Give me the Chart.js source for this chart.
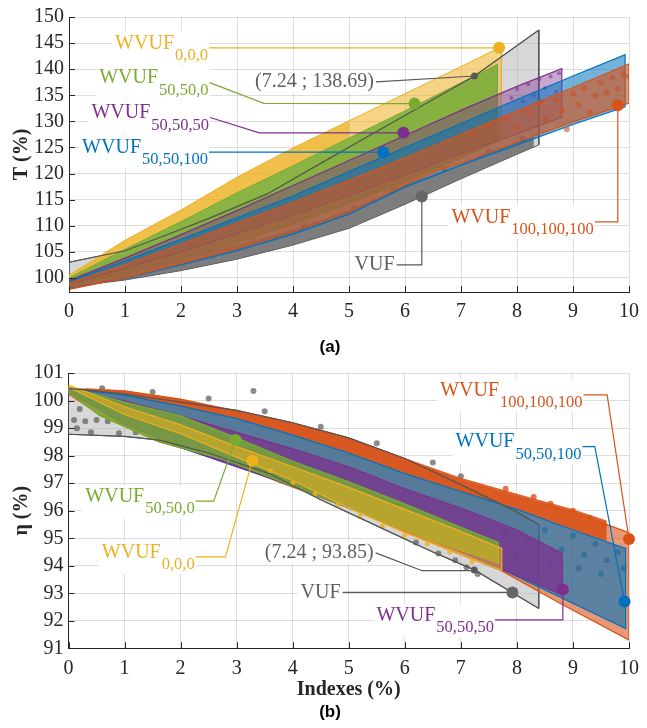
<!DOCTYPE html>
<html>
<head>
<meta charset="utf-8">
<script src="https://cdn.jsdelivr.net/npm/chart.js@4.4.1/dist/chart.umd.min.js"></script>
<style>
  html, body { margin: 0; padding: 0; background: #fff; }
  #wrap { position: relative; width: 647px; height: 728px; }
  .box { position: absolute; left: 0; width: 647px; }
  .cap { position: absolute; left: 0; width: 660px; text-align: center;
         font: bold 17px "Liberation Sans", Arial, sans-serif; color: #000; }
</style>
</head>
<body>
<div id="wrap">
  <div class="box" style="top:0;height:340px"><canvas id="chartA"></canvas></div>
  <div class="cap" style="top:337px">(a)</div>
  <div class="box" style="top:355px;height:345px"><canvas id="chartB"></canvas></div>
  <div class="cap" style="top:702px">(b)</div>
</div>
<script>
// ---------- ticks ----------
const xTicks = [0, 1, 2, 3, 4, 5, 6, 7, 8, 9, 10];
const yTicksA = [100, 105, 110, 115, 120, 125, 130, 135, 140, 145, 150];
const yTicksB = [91, 92, 93, 94, 95, 96, 97, 98, 99, 100, 101];

// ---------- (a) T (%) : envelope edges [index, value] ----------
const vufUpA = [[0,103],[1,105.2],[1.54,107.4],[2.5,111.4],[3.54,116.1],[4.5,122],[5.5,128.1],[6.5,134.2],[7.24,138.69],[8.39,147.5]];
const vufLoA = [[0,98.3],[1,99.6],[2,101.4],[3,103.6],[4,106.3],[5,109.5],[6,114.1],[7,119],[8,123.7],[8.39,125.5]];
const vufCloudTopA = [[0,100],[1,101.8],[2,104],[3,106.4],[4,109.2],[5,113],[6,117.8],[7,121.8],[7.42,123.8],[8,126],[8.3,127]];
const vufCloudLoA = [[0,98.3],[1,99.6],[2,101.4],[3,103.6],[4,106.3],[5,109.5],[6,114.1],[7,119],[7.42,121],[8,123.7],[8.3,125.1]];
const vufDotsA = [[0.3,100.2],[0.8,101.4],[1.5,102.9],[2.4,105.1],[3.3,107.3],[4.2,110],[5.1,113.6],[5.8,117],[6.7,120.9],[7.5,124.2],[8.1,126.6]];

const w000UpA = [[0,100.5],[1,107.2],[2,113],[3,119.3],[4,124.9],[5,130.1],[6,135.3],[7,140.5],[7.68,144.1],[7.72,144.1]];
const w000LoA = [[0,98.4],[1,100.4],[2,103],[3,106],[4,109.5],[5,113.5],[6,118],[7,122.8],[7.72,126.5]];
const w500UpA = [[0,100],[1,105.5],[2,110.8],[3,116.3],[4,121.5],[5,126.8],[6,132],[7,137.4],[7.65,140.9]];
const w500LoA = [[0,98.6],[1,100.8],[2,103.6],[3,106.8],[4,110.3],[5,114.2],[6,118.4],[7,123],[7.65,126.3]];
const w555UpA = [[0,99.5],[1,103.8],[2,108.3],[3,112.9],[4,117.7],[5,122.5],[6,127.3],[7,132.1],[8,136.7],[8.8,140.1]];
const w555LoA = [[0,98.8],[1,101.8],[2,105],[3,108.5],[4,112],[5,115.8],[6,119.8],[7,123.8],[8,127.6],[8.8,130.8]];
const w551UpA = [[0,99.3],[1,103.3],[2,107.4],[3,111.5],[4,115.7],[5,120.4],[6,125],[7,129.6],[8,134.2],[9,138.7],[9.93,142.8]];
const w551LoA = [[0,98],[1,99.9],[2,102.5],[3,105.2],[4,108.4],[5,112.2],[6,117.4],[7,121.6],[8,125.5],[9,129.4],[9.93,132.8]];
const w111UpA = [[0,99],[1,102.5],[2,106.5],[3,110.5],[4,114.5],[5,118.7],[6,123],[7,127.5],[8,132],[9,136.5],[10,141]];
const w111LoA = [[0,97.8],[1,100],[2,102.8],[3,105.6],[4,108.8],[5,112.6],[6,117.8],[6.54,120.3],[7,122],[8,126],[9,129.9],[10,133.5]];
const w555DotsA = [[7.9,134.5],[8.0,136.2],[8.1,133.8],[8.2,137.1],[8.3,135.0],[8.4,138.0],[8.5,136.4],[8.6,138.6],[8.7,135.7],[8.75,139.2],[8.45,133.9]];
const w111DotsA = [[7.2,127.5],[7.5,129.2],[7.8,130.6],[8.0,128.9],[8.2,131.8],[8.4,133.5],[8.5,130.4],[8.7,134.1],[8.8,132.1],[8.89,128.5],[9.0,135.3],[9.1,133.2],[9.2,136.3],[9.3,131.8],[9.4,134.9],[9.5,137.4],[9.6,135.6],[9.7,138.4],[9.8,136.2],[9.9,139.0],[10.0,138.6]];

// markers and leaders (a)
const markersA = [[7.68,144.1],[6.17,133.4],[5.97,127.8],[5.61,124.1],[6.30,115.6],[9.80,133.1]];
const markerColorsA = ['#EDB120','#77AC30','#7E2F8E','#0072BD','#666666','#D95319'];
const pointA = [7.24, 138.69];
const leadW000A = [[2.50,144.1],[7.68,144.1]];
const leadW500A = [[2.51,137.42],[3.48,133.45],[6.17,133.4]];
const leadW555A = [[2.52,130.74],[3.40,127.8],[5.97,127.8]];
const leadW551A = [[2.50,124.1],[5.61,124.1]];
const leadPointA = [[5.48,137.55],[7.24,138.69]];
const leadVufA = [[5.85,102.49],[6.30,102.49],[6.30,115.6]];
const leadW111A = [[9.39,110.72],[9.80,110.72],[9.80,133.1]];

// ---------- (b) eta (%) ----------
const vufUpB = [[0,100.45],[1,100.25],[2,99.95],[3,99.65],[4,99.2],[5,98.65],[6,97.9],[7,96.95],[8,95.95],[8.39,95.5]];
const vufLoB = [[0,98.78],[1,98.7],[1.62,98.57],[2.5,98.1],[3.57,97.36],[4.5,96.4],[5.5,95.45],[6.5,94.5],[7.24,93.85],[8.39,92.45]];
const vufDotsB = [[0.1,99.3],[0.3,99.25],[0.5,99.3],[0.7,99.25],[0.9,99.3],[0.2,99.7],[0.15,99.0],[0.4,98.85],[0.9,98.82],[1.2,98.85],[1.5,98.8],
  [0.6,100.45],[1.5,100.32],[2.5,100.08],[3.3,100.35],[3.5,99.62],[4.5,99.05],[5.5,98.45],[6.5,97.75],[7.0,97.25],
  [6.2,94.85],[6.6,94.45],[6.9,94.2],[7.1,93.95],[7.3,93.7]];
const vufInnerDotsB = [[7.8,95.2],[8.2,94.9],[8.5,95.3],[8.8,94.6],[9.0,95.1],[9.2,94.4],[9.4,94.8],[9.6,94.2],[9.8,94.5],[9.1,93.9],[8.6,94.1],[9.5,93.7],[9.9,93.9],[8.0,94.4]];

const w111UpB = [[0,100.45],[1,100.35],[2,100.05],[3,99.6],[4,99.15],[5,98.6],[6,97.85],[7,97.1],[8,96.5],[9,95.95],[10,95.2]];
const w111LoB = [[0,100.25],[0.56,99.48],[1.62,98.5],[2.8,97.84],[3.74,97.06],[5,96.1],[6,95.25],[7,94.4],[7.7,93.85],[8.8,92.6],[10,91.3]];
const w111CloudTopB = [[0.3,100.45],[1,100.38],[2,100.08],[3,99.65],[4,99.2],[5,98.65],[6,97.92],[7,97.2],[8,96.62],[9,96.05],[9.6,95.65]];
const w111CloudLoB = [[0.3,100.4],[1,100.2],[2,99.8],[3,99.35],[4,98.75],[5,98.1],[6,97.35],[7,96.7],[8,96.05],[9,95.3],[9.6,94.9]];
const w111DotsB = [[7.8,96.8],[8.3,96.5],[8.6,96.25],[9.0,96.0],[9.3,95.75],[9.55,95.5]];
const w551UpB = [[0,100.45],[1,100.2],[2,99.8],[3,99.35],[4,98.75],[5,98.1],[6,97.35],[7,96.7],[8,96.05],[9,95.3],[9.94,94.63]];
const w551LoB = [[0,100.3],[1,99.2],[2,98.3],[3,97.6],[4,96.9],[5,96.1],[6,95.3],[7,94.5],[7.7,93.9],[9.94,91.72]];
const w555UpB = [[0,100.4],[1,100.0],[2,99.45],[3,98.85],[4,98.25],[5,97.6],[6,96.8],[7,96.1],[8,95.3],[8.81,94.45]];
const w555LoB = [[0,100.3],[1,99.15],[2,98.3],[3,97.6],[4,96.9],[5,96.1],[6,95.3],[7,94.5],[7.7,93.9],[8.81,92.94]];
const w500UpB = [[0,100.5],[1,99.95],[2,99.45],[3,98.65],[4,97.8],[5,97.05],[6,96.25],[7,95.4],[7.67,94.85]];
const w500LoB = [[0,100.3],[0.56,99.45],[1.62,98.5],[2.8,97.85],[3.74,97.1],[4.5,96.5],[5.5,95.7],[6.5,94.9],[7.67,94.1]];
const w000UpB = [[0,100.57],[1,99.78],[2,99.12],[3,98.33],[4,97.6],[5,96.85],[6,96.05],[7,95.25],[7.73,94.63]];
const w000LoB = [[0,100.5],[1,99.5],[2,98.8],[3,97.95],[4,97.1],[5,96.1],[6,95.2],[7,94.4],[7.73,93.84]];
const w000DotsB = [[3.6,97.45],[4.0,97.0],[4.4,96.6],[4.8,96.2],[5.2,95.8],[5.6,95.45],[6.0,95.1],[6.4,94.8],[6.8,94.5],[7.2,94.15]];

const markersB = [[10,94.97],[9.92,92.7],[8.82,93.14],[7.92,93.03],[2.98,98.57],[3.28,97.82]];
const markerColorsB = ['#D95319','#0072BD','#7E2F8E','#666666','#77AC30','#EDB120'];
const pointB = [7.24, 93.85];
const leadW111B = [[9.19,100.21],[9.61,100.21],[10,94.97]];
const leadW551B = [[9.17,98.33],[9.39,98.33],[9.92,92.7]];
const leadW500B = [[2.27,96.35],[2.59,96.35],[2.98,98.57]];
const leadW000B = [[2.27,94.32],[2.80,94.32],[3.28,97.82]];
const leadPointB = [[5.48,94.47],[6.31,93.82],[7.22,93.82],[7.24,93.85]];
const leadVufB = [[4.89,93.03],[7.92,93.03]];
const leadW555B = [[7.61,92.03],[8.82,92.03],[8.82,93.14]];

// ---------- helpers ----------
const SERIF = '"Liberation Serif", "Times New Roman", serif';
const MAIN_FONT = '20px ' + SERIF;
const SUB_FONT = '16.5px ' + SERIF;
const GREY_TXT = '#5f5f5f';
const pts = (arr) => arr.map(([x, y]) => ({ x, y }));
const poly = (up, lo) => pts([...up, ...lo.slice().reverse(), up[0]]);

function band(up, lo, fill, stroke, width) {
  return { data: poly(up, lo), fill: 'shape', backgroundColor: fill,
           borderColor: stroke || 'transparent', borderWidth: width == null ? 1 : width,
           pointRadius: 0, tension: 0 };
}
function line(arr, color, width, clip) {
  return { data: pts(arr), fill: false, borderColor: color, borderWidth: width || 1.2,
           pointRadius: 0, tension: 0, clip: clip ? undefined : false };
}
function dots(arr, color, r) {
  return { data: pts(arr), showLine: false, pointRadius: r, pointBackgroundColor: color,
           pointBorderWidth: 0, borderColor: 'transparent', backgroundColor: color };
}
function markers(arr, colors, r) {
  return { data: pts(arr), showLine: false, pointRadius: r, pointBackgroundColor: colors,
           pointBorderWidth: 0, borderColor: 'transparent', clip: false };
}

function calloutPlugin(items) {
  function measure(ctx, it) {
    ctx.font = MAIN_FONT;
    const mw = ctx.measureText(it.main).width;
    let sw = 0;
    if (it.sub) { ctx.font = SUB_FONT; sw = ctx.measureText(it.sub).width; }
    return { mw, sw };
  }
  return {
    id: 'callouts',
    beforeDatasetsDraw(chart) {
      const { ctx } = chart;
      const xs = chart.scales.x, ys = chart.scales.y;
      ctx.save();
      items.forEach((it) => {
        const ax = xs.getPixelForValue(it.at[0]), ay = ys.getPixelForValue(it.at[1]);
        const { mw, sw } = measure(ctx, it);
        const right = ax - 1;
        const left = right - sw - mw - (it.sub ? 1 : 0);
        ctx.fillStyle = '#fff';
        if (it.sub) ctx.fillRect(left - 3, ay - 16, right - left + 4, 33);
        else ctx.fillRect(left - 3, ay - 11, right - left + 4, 22);
      });
      ctx.restore();
    },
    afterDatasetsDraw(chart) {
      const { ctx, chartArea } = chart;
      const xs = chart.scales.x, ys = chart.scales.y;
      ctx.save();
      // inward tick marks
      ctx.strokeStyle = '#262626';
      ctx.lineWidth = 1;
      ctx.beginPath();
      xs.ticks.forEach((t) => {
        const px = Math.round(xs.getPixelForValue(t.value)) + 0.5;
        ctx.moveTo(px, chartArea.bottom); ctx.lineTo(px, chartArea.bottom - 6);
      });
      ys.ticks.forEach((t) => {
        const py = Math.round(ys.getPixelForValue(t.value)) + 0.5;
        ctx.moveTo(chartArea.left, py); ctx.lineTo(chartArea.left + 6, py);
      });
      ctx.stroke();
      // label texts
      ctx.textBaseline = 'middle';
      ctx.textAlign = 'right';
      items.forEach((it) => {
        const ax = xs.getPixelForValue(it.at[0]), ay = ys.getPixelForValue(it.at[1]);
        const { sw } = measure(ctx, it);
        const right = ax - 1;
        ctx.fillStyle = it.color;
        if (it.sub) {
          ctx.font = SUB_FONT; ctx.fillText(it.sub, right, ay + 8);
          ctx.font = MAIN_FONT; ctx.fillText(it.main, right - sw - 1, ay - 4.5);
        } else {
          ctx.font = MAIN_FONT; ctx.fillText(it.main, right - 1, ay);
        }
      });
      ctx.restore();
    },
  };
}

function scales(yMin, yMax, yTicks, yTitle, yWidth, xHeight, xTitle) {
  const tickFont = { family: SERIF, size: 20 };
  const grid = { color: 'rgba(0,0,0,0.13)', drawTicks: false };
  const border = { color: '#262626', width: 1 };
  return {
    x: {
      type: 'linear', min: 0, max: 10, grid, border,
      afterBuildTicks: (s) => { s.ticks = xTicks.map((v) => ({ value: v })); },
      afterFit: (s) => { s.height = xHeight; },
      ticks: { font: tickFont, color: '#262626', padding: 8, maxRotation: 0, autoSkip: false },
      title: xTitle ? { display: true, text: xTitle, color: '#262626',
        font: { family: SERIF, size: 20, weight: 'bold', lineHeight: 1 }, padding: { top: 0, bottom: 0 } }
        : { display: false },
    },
    y: {
      type: 'linear', min: yMin, max: yMax, grid, border,
      afterBuildTicks: (s) => { s.ticks = yTicks.map((v) => ({ value: v })); },
      afterFit: (s) => { s.width = yWidth; },
      ticks: { font: tickFont, color: '#262626', padding: 5, autoSkip: false },
      title: { display: true, text: yTitle, color: '#262626',
        font: { family: SERIF, size: 20, weight: 'bold' }, padding: { top: 10, bottom: 0 } },
    },
  };
}

const baseOptions = (layoutPad, sc) => ({
  responsive: true, maintainAspectRatio: false, animation: false, events: [],
  layout: { padding: layoutPad },
  plugins: { legend: { display: false }, tooltip: { enabled: false } },
  scales: sc,
});

// Chart.js paints the first dataset on top, so lists below are written
// back-to-front and reversed before handing them over.

// ---------- chart (a) ----------
const labelsA = [
  { at: leadW000A[0], main: 'WVUF', sub: '0,0,0', color: '#EDB120' },
  { at: leadW500A[0], main: 'WVUF', sub: '50,50,0', color: '#77AC30' },
  { at: leadW555A[0], main: 'WVUF', sub: '50,50,50', color: '#7E2F8E' },
  { at: leadW551A[0], main: 'WVUF', sub: '50,50,100', color: '#0072BD' },
  { at: leadPointA[0], main: '(7.24 ; 138.69)', color: GREY_TXT },
  { at: leadVufA[0], main: 'VUF', color: GREY_TXT },
  { at: leadW111A[0], main: 'WVUF', sub: '100,100,100', color: '#D95319' },
];

const layersA = [
  band(vufUpA, vufLoA, 'rgba(175,175,175,0.5)', '#555', 1),
  band(vufCloudTopA, vufCloudLoA, 'rgba(105,105,105,0.82)', 'transparent', 0),
  dots(vufDotsA, 'rgba(105,105,105,0.8)', 3),
  band(w000UpA, w000LoA, 'rgba(237,177,32,0.35)', '#EDB120', 1),
  band(w000UpA.slice(0, 6), w500UpA.slice(0, 6), 'rgba(237,177,32,0.7)', 'transparent', 0),
  band(w000UpA.slice(5, 9), w500UpA.slice(5, 9), 'rgba(237,177,32,0.3)', 'transparent', 0),
  band(w500UpA, w500LoA, 'rgba(119,172,48,0.85)', '#77AC30', 1),
  line(vufUpA, '#555', 1.2, true),
  band(w555UpA, w555LoA, 'rgba(126,47,142,0.42)', '#7E2F8E', 1.2),
  dots(w555DotsA, 'rgba(126,47,142,0.55)', 2),
  band(w551UpA, w551LoA, 'rgba(0,114,189,0.55)', '#0072BD', 1.2),
  band(w111UpA, w111LoA, 'rgba(217,83,25,0.62)', '#D95319', 1.2),
  dots(w111DotsA, 'rgba(200,80,40,0.6)', 3),
  line(leadW000A, '#EDB120'),
  line(leadW500A, '#77AC30'),
  line(leadW555A, '#7E2F8E'),
  line(leadW551A, '#0072BD'),
  line(leadPointA, '#595959'),
  line(leadVufA, '#595959'),
  line(leadW111A, '#D95319'),
  markers(markersA, markerColorsA, 6),
  markers([pointA], ['#595959'], 3.5),
];

new Chart(document.getElementById('chartA'), {
  type: 'line',
  data: { datasets: layersA.reverse() },
  options: baseOptions({ top: 15.7, right: 10.3, left: 0, bottom: 0 },
    scales(97.3, 150, yTicksA, 'T (%)', 69, 48, null)),
  plugins: [calloutPlugin(labelsA)],
});

// ---------- chart (b) ----------
const labelsB = [
  { at: leadW111B[0], main: 'WVUF', sub: '100,100,100', color: '#D95319' },
  { at: leadW551B[0], main: 'WVUF', sub: '50,50,100', color: '#0072BD' },
  { at: leadW500B[0], main: 'WVUF', sub: '50,50,0', color: '#77AC30' },
  { at: leadW000B[0], main: 'WVUF', sub: '0,0,0', color: '#EDB120' },
  { at: leadPointB[0], main: '(7.24 ; 93.85)', color: GREY_TXT },
  { at: leadVufB[0], main: 'VUF', color: GREY_TXT },
  { at: leadW555B[0], main: 'WVUF', sub: '50,50,50', color: '#7E2F8E' },
];

const layersB = [
  band(vufUpB, vufLoB, 'rgba(175,175,175,0.5)', '#555', 1),
  dots(vufDotsB, 'rgba(100,100,100,0.75)', 3),
  band(w111UpB, w111LoB, 'rgba(217,83,25,0.6)', '#D95319', 1.2),
  band(w111CloudTopB, w111CloudLoB, 'rgba(217,83,25,0.9)', 'transparent', 0),
  dots(w111DotsB, 'rgba(217,83,25,0.8)', 3),
  dots(vufInnerDotsB, 'rgba(90,90,90,0.6)', 3),
  band(w551UpB, w551LoB, 'rgba(0,114,189,0.6)', '#0072BD', 1.2),
  band(w555UpB, w555LoB, 'rgba(126,47,142,0.72)', '#7E2F8E', 1.2),
  band(w500UpB, w500LoB, 'rgba(119,172,48,0.8)', '#77AC30', 1.2),
  band(w000UpB, w000LoB, 'rgba(237,177,32,0.55)', '#EDB120', 1.2),
  dots(w000DotsB, 'rgba(237,177,32,0.8)', 2.5),
  line(vufUpB, '#555', 1.2, true),
  line(vufLoB, '#555', 1.2, true),
  line(leadW111B, '#D95319'),
  line(leadW551B, '#0072BD'),
  line(leadW500B, '#77AC30'),
  line(leadW000B, '#EDB120'),
  line(leadPointB, '#595959'),
  line(leadVufB, '#595959'),
  line(leadW555B, '#7E2F8E'),
  markers(markersB, markerColorsB, 6),
  markers([pointB], ['#595959'], 3.5),
];

new Chart(document.getElementById('chartB'), {
  type: 'line',
  data: { datasets: layersB.reverse() },
  options: baseOptions({ top: 18.2, right: 13.7, left: 0, bottom: 0 },
    scales(91, 101, yTicksB, 'η (%)', 68.5, 51.7, 'Indexes (%)')),
  plugins: [calloutPlugin(labelsB)],
});
</script>
</body>
</html>
